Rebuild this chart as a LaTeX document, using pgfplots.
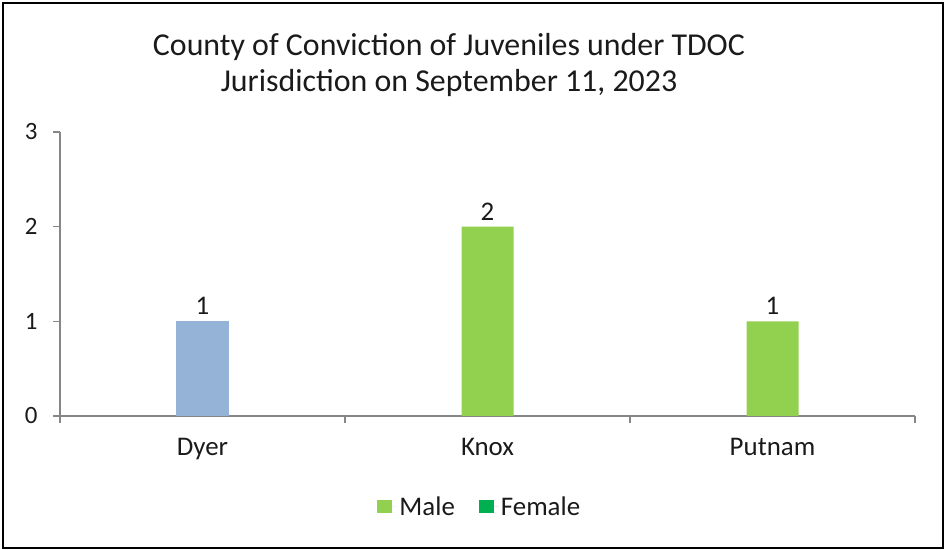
\documentclass[border=0pt]{standalone}
\usepackage{fontspec}
\setmainfont{Carlito}
\usepackage{pgfplots}
\pgfplotsset{compat=1.18}
\definecolor{axgray}{HTML}{868686}
\definecolor{dyerblue}{HTML}{95B3D7}
\definecolor{malegreen}{HTML}{92D050}
\definecolor{femgreen}{HTML}{00B050}
\definecolor{txt}{HTML}{1A1A1A}
\begin{document}
\begin{tikzpicture}[x=1bp,y=1bp]
\useasboundingbox (0,0) rectangle (946,550);
\draw[black, line width=2bp] (3,2) rectangle (943,547);
\node[align=center, font=\fontsize{32}{37}\selectfont, text=txt] at (449,485)
  {County of Conviction of Juveniles under TDOC\\Jurisdiction on September 11, 2023};
\begin{axis}[
  at={(60bp,134bp)}, anchor=south west,
  scale only axis, width=855bp, height=284bp,
  xmin=-0.5, xmax=2.5, ymin=0, ymax=3,
  axis lines*=left,
  axis line style={axgray, line width=1.3bp},
  every tick/.style={axgray, line width=1.3bp},
  ytick={0,1,2,3},
  xtick={0,1,2}, xticklabels={Dyer,Knox,Putnam},
  x tick label style={font=\fontsize{27}{30}\selectfont, text=txt, yshift=-12bp},
  y tick label style={font=\fontsize{25}{28}\selectfont, text=txt, xshift=-12bp},
  /pgf/number format/assume math mode=true,
  major x tick style={draw=none},
  minor xtick={-0.5,0.5,1.5,2.5},
  minor tick length=7bp, major tick length=7bp,
  tick align=outside,
  ybar, bar shift=0pt, bar width=0.1825,
  nodes near coords,
  every node near coord/.append style={font=\fontsize{27}{30}\selectfont, text=txt, yshift=3bp},
  legend style={at={(0.491,-0.32)}, anchor=center, draw=none, fill=none,
    legend columns=2, font=\fontsize{27}{30}\selectfont, text=txt,
    /tikz/every even column/.append style={column sep=22bp}},
  legend image code/.code={\fill[#1, draw=none] (0bp,-6bp) rectangle (15bp,7bp);
    \path (0bp,0bp) -- (20bp,0bp);},
]
\addplot[fill=dyerblue, draw=none, forget plot] coordinates {(0,1)};
\addplot[fill=malegreen, draw=none] coordinates {(1,2) (2,1)};
\addlegendentry{Male}
\addlegendimage{fill=femgreen, draw=none}
\addlegendentry{Female}
\end{axis}
\end{tikzpicture}
\end{document}
